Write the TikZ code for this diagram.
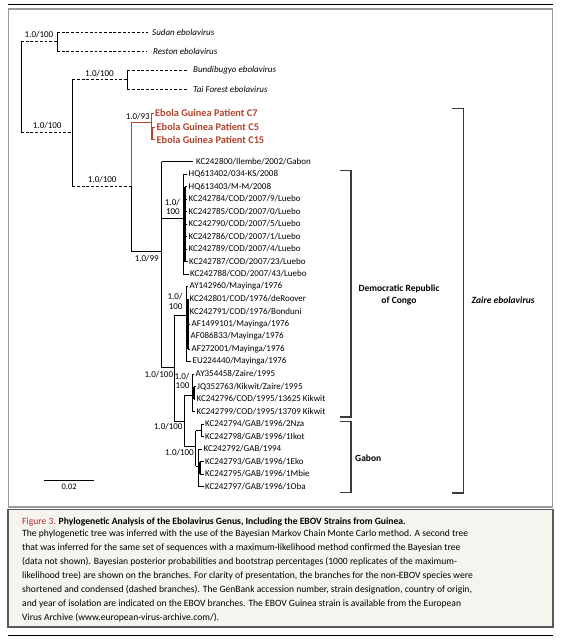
\documentclass[tikz,border=0pt]{standalone}
\usepackage{fontspec}
\setmainfont{Carlito}
\usetikzlibrary{positioning}
\definecolor{guineared}{HTML}{B4432C}
\definecolor{figred}{HTML}{C0262D}
\definecolor{framegray}{HTML}{9A9A9A}
\definecolor{capgray}{HTML}{5A5A5A}
\definecolor{capbg}{HTML}{F6F4EF}
\definecolor{bracketgray}{HTML}{3A3A3A}

\begin{document}
\begin{tikzpicture}[x=1pt,y=-1pt,
  branch/.style={line width=0.9pt},
  condensed/.style={branch,dash pattern=on 2.8pt off 1.9pt},
  guineabranch/.style={branch,draw=guineared},
  twig/.style={line width=1.9pt},
  leaf/.style={anchor=west,inner sep=0pt,font=\fontsize{9}{10}\selectfont},
  species/.style={leaf,font=\fontsize{9}{10}\selectfont\itshape},
  patient/.style={leaf,font=\fontsize{10.3}{11}\selectfont\bfseries,text=guineared},
  support/.style={anchor=east,inner sep=0pt,align=right,font=\fontsize{9}{9.8}\selectfont},
  bracket/.style={line width=1.1pt,draw=bracketgray},
  groupname/.style={inner sep=0pt,font=\fontsize{9.5}{12}\selectfont\bfseries}]

% frame and caption box
\useasboundingbox (0,0) rectangle (560,640);
\fill[white] (0,0) rectangle (560,640);
\draw[line width=1.6pt] (8,4.5) -- (553,4.5);
\draw[framegray,line width=1.3pt] (8.5,9) rectangle (552.5,507);
\draw[capgray,fill=capbg,line width=1.1pt] (8,509.5) rectangle (553,627);
\draw[line width=1.8pt] (8,635.5) -- (553,635.5);

% condensed species
\node[species] (sudan) at (152,32.3) {Sudan ebolavirus};
\node[species] (reston) at (153,51.7) {Reston ebolavirus};
\node[species] (bundi) at (193,70) {Bundibugyo ebolavirus};
\node[species] (tai) at (193,89) {Tai Forest ebolavirus};

% Guinea patients
\node[patient] (c7) at (155,113) {Ebola Guinea Patient C7};
\node[patient] (c5) at (156.5,127) {Ebola Guinea Patient C5};
\node[patient] (c15) at (156.5,139.5) {Ebola Guinea Patient C15};

% EBOV strains
\node[leaf] (l0) at (196,161.5) {KC242800/Ilembe/2002/Gabon};
\node[leaf] (l1) at (188.5,174) {HQ613402/034-KS/2008};
\node[leaf] (l2) at (188.5,186.5) {HQ613403/M-M/2008};
\node[leaf] (l3) at (188.5,199) {KC242784/COD/2007/9/Luebo};
\node[leaf] (l4) at (188.5,211.5) {KC242785/COD/2007/0/Luebo};
\node[leaf] (l5) at (188.5,224) {KC242790/COD/2007/5/Luebo};
\node[leaf] (l6) at (188.5,236.5) {KC242786/COD/2007/1/Luebo};
\node[leaf] (l7) at (188.5,249) {KC242789/COD/2007/4/Luebo};
\node[leaf] (l8) at (189,261.5) {KC242787/COD/2007/23/Luebo};
\node[leaf] (l9) at (190,274) {KC242788/COD/2007/43/Luebo};
\node[leaf] (l10) at (189.5,286.5) {AY142960/Mayinga/1976};
\node[leaf] (l11) at (189.5,299) {KC242801/COD/1976/deRoover};
\node[leaf] (l12) at (189.5,311.5) {KC242791/COD/1976/Bonduni};
\node[leaf] (l13) at (191.5,324) {AF1499101/Mayinga/1976};
\node[leaf] (l14) at (190.5,336.5) {AF086833/Mayinga/1976};
\node[leaf] (l15) at (191.5,349) {AF272001/Mayinga/1976};
\node[leaf] (l16) at (192.5,361.5) {EU224440/Mayinga/1976};
\node[leaf] (l17) at (195.5,374) {AY354458/Zaire/1995};
\node[leaf] (l18) at (197,386.5) {JQ352763/Kikwit/Zaire/1995};
\node[leaf] (l19) at (196.5,399) {KC242796/COD/1995/13625 Kikwit};
\node[leaf] (l20) at (196.5,411.5) {KC242799/COD/1995/13709 Kikwit};
\node[leaf] (l21) at (205,424) {KC242794/GAB/1996/2Nza};
\node[leaf] (l22) at (205,436.5) {KC242798/GAB/1996/1Ikot};
\node[leaf] (l23) at (203.5,449) {KC242792/GAB/1994};
\node[leaf] (l24) at (205,461.5) {KC242793/GAB/1996/1Eko};
\node[leaf] (l25) at (205,474) {KC242795/GAB/1996/1Mbie};
\node[leaf] (l26) at (205,486.5) {KC242797/GAB/1996/1Oba};

% internal nodes
\coordinate (root) at (21,87);
\coordinate (sr) at (57,41.7);
\coordinate (ebo) at (72.3,132.7);
\coordinate (bt) at (127.3,79);
\coordinate (zaire) at (131.7,186);
\coordinate (guinea) at (151.7,122);
\coordinate (nA) at (161.7,251);
\coordinate (drc07) at (183.3,218.3);
\coordinate (drc07in) at (185.4,224);
\coordinate (nB) at (174.3,367.7);
\coordinate (may) at (186,315);
\coordinate (mayin) at (187.8,324);
\coordinate (nC) at (184,421);
\coordinate (kik) at (192.7,395);
\coordinate (kikin) at (194.4,393);
\coordinate (gab) at (195.5,446.7);
\coordinate (gab1) at (201,430.5);
\coordinate (gab2) at (198,466);
\coordinate (gab2in) at (199.7,468);

% genus level, condensed
\draw[branch] (root |- sr) -- (root |- ebo);
\draw[condensed] (root |- sr) -- (sr);
\draw[condensed] (root |- ebo) -- (ebo);
\draw[branch] (sr |- sudan) -- (sr |- reston);
\draw[condensed] (sr |- sudan) -- ([xshift=-4.5]sudan.west);
\draw[condensed] (sr |- reston) -- ([xshift=-6]reston.west);
\draw[branch] (ebo |- bt) -- (ebo |- zaire);
\draw[condensed] (ebo |- bt) -- (bt);
\draw[condensed] (ebo |- zaire) -- (zaire);
\draw[branch] (bt |- bundi) -- (bt |- tai);
\draw[condensed] (bt |- bundi) -- ([xshift=-5]bundi.west);
\draw[condensed] (bt |- tai) -- ([xshift=-5]tai.west);

% Guinea
\draw[guineabranch] (zaire |- guinea) -- (zaire);
\draw[guineabranch] (zaire |- guinea) -- (guinea);
\draw[guineabranch] (guinea |- c7) -- (guinea |- c15);
\draw[guineabranch,line width=1.4pt] ([xshift=0.6]guinea |- c5) -- ([xshift=0.6]guinea |- c15);
\foreach \p in {c7,c5,c15}
  \draw[guineabranch] (guinea |- \p) -- ([xshift=-1.2]\p.west);

% EBOV
\draw[branch] (zaire) -- (zaire |- nA) -- (nA);
\draw[branch] (nA |- l0) -- (nA |- nB);
\draw[branch] (nA |- l0) -- ([xshift=-3]l0.west);
\draw[branch] (nA |- drc07) -- (drc07);
\draw[branch] (drc07 |- l1) -- (drc07 |- l9);
\draw[twig] (drc07in |- l2) -- (drc07in |- l8);
\foreach \i in {1,9}
  \draw[branch] (drc07 |- l\i) -- ([xshift=-1.2]l\i.west);
\foreach \i in {2,...,8}
  \draw[branch] (drc07in |- l\i) -- ([xshift=-1.2]l\i.west);
\draw[branch] (nA |- nB) -- (nB);
\draw[branch] (nB |- may) -- (nB |- nC);
\draw[branch] (nB |- may) -- (may);
\draw[branch] (may |- l10) -- (may |- l16);
\draw[twig] (mayin |- l11) -- (mayin |- l15);
\foreach \i in {10,16}
  \draw[branch] (may |- l\i) -- ([xshift=-1.2]l\i.west);
\foreach \i in {11,...,15}
  \draw[branch] (mayin |- l\i) -- ([xshift=-1.2]l\i.west);
\draw[branch] (nB |- nC) -- (nC);
\draw[branch] (nC |- kik) -- (nC |- gab);
\draw[branch] (nC |- kik) -- (kik);
\draw[branch] (kik |- l17) -- (kik |- l20);
\draw[twig] (kikin |- l18) -- (kikin |- l19);
\foreach \i in {17,20}
  \draw[branch] (kik |- l\i) -- ([xshift=-1.2]l\i.west);
\foreach \i in {18,19}
  \draw[branch] (kikin |- l\i) -- ([xshift=-1.2]l\i.west);
\draw[branch] (nC |- gab) -- (gab);
\draw[branch] (gab |- gab1) -- (gab |- gab2);
\draw[branch] (gab |- gab1) -- (gab1);
\draw[branch] (gab |- gab2) -- (gab2);
\draw[branch] (gab1 |- l21) -- (gab1 |- l22);
\foreach \i in {21,22}
  \draw[branch] (gab1 |- l\i) -- ([xshift=-1.2]l\i.west);
\draw[branch] (gab2 |- l23) -- (gab2 |- l26);
\draw[twig] (gab2in |- l24) -- (gab2in |- l25);
\foreach \i in {23,26}
  \draw[branch] (gab2 |- l\i) -- ([xshift=-1.2]l\i.west);
\foreach \i in {24,25}
  \draw[branch] (gab2in |- l\i) -- ([xshift=-1.2]l\i.west);

% support values
\node[support] (s1) at (53.5,35) {1.0/100};
\node[support] (s2) at (61.7,126) {1.0/100};
\node[support] (s3) at (114,73.3) {1.0/100};
\node[support] (s4) at (150,117) {1.0/93};
\node[support] (s5) at (116.7,180) {1.0/100};
\node[support] (s6) at (159,259) {1.0/99};
\node[support] (s7) at (180,207) {1.0/\\100};
\node[support] (s8) at (182.7,301.7) {1.0/\\100};
\node[support] (s9) at (173.3,375) {1.0/100};
\node[support] (s10) at (189.6,381) {1.0/\\100};
\node[support] (s11) at (182.7,426.7) {1.0/100};
\node[support] (s12) at (194,452.7) {1.0/100};

% groups
\draw[bracket] (339.5,170.5) -- (351,170.5) -- (351,417) -- (339.5,417);
\draw[bracket] (339.5,421.7) -- (351,421.7) -- (351,492.7) -- (339.5,492.7);
\draw[bracket] (452,108.3) -- (463.3,108.3) -- (463.3,493) -- (452,493);
\node[groupname,align=center] (drc) at (399,295) {Democratic Republic\\of Congo};
\node[groupname,anchor=west] (gabon) at (355,458.3) {Gabon};
\node[groupname,anchor=west,font=\fontsize{9.5}{12}\selectfont\bfseries\itshape] (zaireebov) at (471.5,300) {Zaire ebolavirus};

% scale bar
\coordinate (sb0) at (44.3,480.5);
\coordinate (sb1) at (94,480.5);
\coordinate (sbmid) at (69.2,480.5);
\draw[branch] (sb0) -- (sb1);
\node[inner sep=0pt,font=\fontsize{8.5}{9}\selectfont,below=3pt of sbmid] (sbl) {0.02};

% caption
\node[anchor=west,inner sep=0pt,font=\fontsize{9.6}{12}\selectfont] (captitle) at (22,521.7)
  {\textcolor{figred}{Figure 3.} \textbf{Phylogenetic Analysis of the Ebolavirus Genus, Including the EBOV Strains from Guinea.}};
\node[anchor=north west,inner sep=0pt,align=left,font=\fontsize{9.6}{13.9}\selectfont] (captext) at (22,530)
  {The phylogenetic tree was inferred with the use of the Bayesian Markov Chain Monte Carlo method. A second tree\\
   that was inferred for the same set of sequences with a maximum-likelihood method confirmed the Bayesian tree\\
   (data not shown). Bayesian posterior probabilities and bootstrap percentages (1000 replicates of the maximum-\\
   likelihood tree) are shown on the branches. For clarity of presentation, the branches for the non-EBOV species were\\
   shortened and condensed (dashed branches). The GenBank accession number, strain designation, country of origin,\\
   and year of isolation are indicated on the EBOV branches. The EBOV Guinea strain is available from the European\\
   Virus Archive (www.european-virus-archive.com/).};
\end{tikzpicture}
\end{document}
